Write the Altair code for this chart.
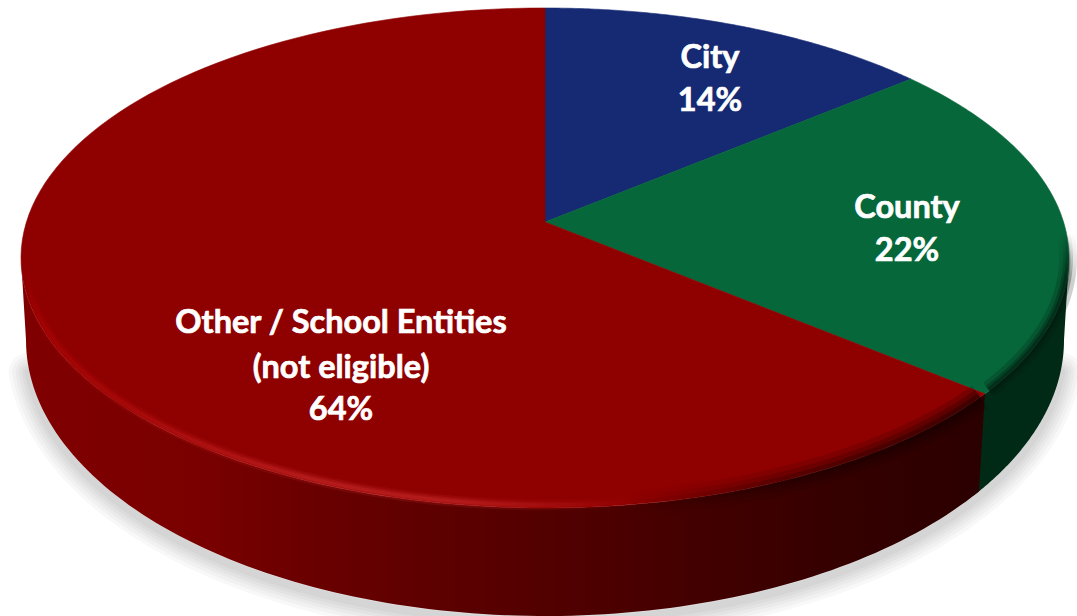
import math
import altair as alt

# Budget shares shown on the pie
categories = ["City", "County", "Other / School Entities"]
shares = [14, 22, 64]
slice_colors = ["#152A73", "#06673A", "#8F0000"]

# Text lines drawn on the slices
label_lines = ["City", "14%", "County", "22%", "Other / School Entities", "(not eligible)", "64%"]
label_cols = [710, 710, 907, 907, 341, 341, 341]
label_rows = [58, 101, 208, 251, 323, 368, 410]

# Top face: an ellipse on screen, with the pie's hub displaced by perspective
CX, CY, RX, RY = 545.0, 258.0, 524.0, 250.0
HUB_Y = 222.0
P = (HUB_Y - CY) / RY
# Lower edge of the extruded body
BX, BY, BRX, BRY = 545.0, 340.0, 519.0, 276.0


def norm_point(theta):
    """Unit-disc point for a clockwise angle from twelve o'clock, in perspective."""
    u, v = math.sin(theta), -math.cos(theta)
    d = 1 + P * v
    return u * math.sqrt(1 - P * P) / d, (v + P) / d


def top_point(theta, inset=0.0):
    X, Y = norm_point(theta)
    return [CX + (RX - inset) * X, CY + (RY - inset) * Y]


def arc(t0, t1, inset=0.0, n=120):
    return [top_point(t0 + (t1 - t0) * i / n, inset) for i in range(n + 1)]


def bottom_arc(a0, a1, n=120):
    """Lower ellipse, angle measured from its right extreme towards the bottom."""
    pts = []
    for i in range(n + 1):
        a = a0 + (a1 - a0) * i / n
        pts.append([BX + BRX * math.cos(a), BY + BRY * math.sin(a)])
    return pts


def polygon(name, pts):
    return {"type": "Feature", "properties": {"name": name},
            "geometry": {"type": "Polygon", "coordinates": [pts + [pts[0]]]}}


def linestring(pts):
    return {"type": "Feature", "properties": {},
            "geometry": {"type": "LineString", "coordinates": pts}}


# Slice boundaries, running clockwise from twelve o'clock
edges = [0.0]
for s in shares:
    edges.append(edges[-1] + 2 * math.pi * s / sum(shares))

hub = [CX, HUB_Y]
slice_features = [
    polygon(c, [hub] + arc(edges[i], edges[i + 1]))
    for i, c in enumerate(categories)
]

# Body sides: the red and green walls that show below the top face
corner = edges[2]
corner_pt = top_point(corner)
corner_bottom_angle = math.acos((corner_pt[0] - 6 - BX) / BRX)

# Angles where the top ellipse reaches its left and right extremes
t_right = math.acos(P)
t_left = 2 * math.pi - t_right

red_wall = arc(corner, t_left) + bottom_arc(math.pi, corner_bottom_angle)
green_wall = arc(t_right, corner + 0.02) + bottom_arc(corner_bottom_angle + 0.02, 0.0)


def geo(features, **mark):
    return alt.Chart(alt.Data(values=features)).mark_geoshape(**mark)


def grad(stops, horizontal=True):
    kw = dict(x1=0, x2=1, y1=0, y2=0) if horizontal else dict(x1=0, x2=0, y1=0, y2=1)
    return alt.Gradient(gradient="linear",
                        stops=[alt.GradientStop(offset=o, color=c) for o, c in stops], **kw)


layers = []

# Soft drop shadow, built up from stacked translucent strokes
shadow_path = [[x, y + 5] for x, y in bottom_arc(0.1, math.pi - 0.1, 160)]
for w in (40, 33, 26, 20, 14, 8):
    layers.append(geo([linestring(shadow_path)], filled=False, stroke="#000000",
                      strokeWidth=w, strokeOpacity=0.028, strokeCap="round", strokeJoin="round"))

# Side walls
layers.append(geo([polygon("green wall", green_wall)], stroke=None, fill="#012A16"))
layers.append(geo([polygon("red wall", red_wall)], stroke=None, fill=grad([
    (0.00, "#800000"), (0.18, "#7A0000"), (0.30, "#6A0000"), (0.55, "#520000"),
    (0.71, "#420000"), (0.86, "#340000"), (1.00, "#2B0000"),
])))

# Top face
layers.append(
    geo(slice_features, strokeWidth=0.6).encode(
        color=alt.Color("properties.name:N", legend=None,
                        scale=alt.Scale(domain=categories, range=slice_colors)),
        stroke=alt.Stroke("properties.name:N", legend=None,
                          scale=alt.Scale(domain=categories, range=slice_colors)),
    )
)

# Highlight along the bevel of the red slice
glow = arc(corner + 0.72, t_left - 0.02, inset=3)
for w, a in ((11, 0.16), (7, 0.24), (3.5, 0.34)):
    layers.append(geo([linestring(glow)], filled=False, strokeWidth=w, strokeCap="butt",
                      stroke=grad([
                          (0.00, "rgba(185,5,5,0)"),
                          (0.03, f"rgba(185,5,5,{a * 0.7:.2f})"),
                          (0.45, f"rgba(205,45,45,{a})"),
                          (0.70, f"rgba(205,45,45,{a})"),
                          (1.00, "rgba(200,30,30,0)"),
                      ])))

# Darkening where the bevel turns away on the right
dark = arc(corner + 0.015, corner + 0.75, inset=0)
for w, a in ((28, 0.2), (18, 0.28), (9, 0.38)):
    layers.append(geo([linestring(dark)], filled=False, strokeWidth=w, strokeCap="butt",
                      stroke=grad([(0.0, "rgba(20,0,0,0)"), (0.45, f"rgba(20,0,0,{a * 0.6:.2f})"),
                                   (1.0, f"rgba(20,0,0,{a})")])))

green_edge = arc(t_right - 0.1, corner - 0.015, inset=1)
for w, a in ((18, 0.2), (10, 0.3), (5, 0.4)):
    layers.append(geo([linestring(green_edge)], filled=False, strokeWidth=w, strokeCap="butt",
                      stroke=grad([(0.0, "rgba(0,20,10,0)"), (0.3, f"rgba(0,20,10,{a})"),
                                   (1.0, f"rgba(0,20,10,{a})")], horizontal=False)))

# Labels
label_rows_data = [
    {"text": t, "x": x, "y": y}
    for t, x, y in zip(label_lines, label_cols, label_rows)
]
layers.append(
    alt.Chart(alt.Data(values=label_rows_data))
    .mark_text(font="Lato", fontWeight="bold", fontSize=32.5, color="#FFFFFF",
               stroke="#FFFFFF", strokeWidth=0.7, align="center", baseline="middle")
    .encode(longitude="x:Q", latitude="y:Q", text="text:N")
)

chart = (
    alt.layer(*layers)
    .project(type="identity", scale=1, translate=[0, 0])
    .properties(width=1077, height=616, padding=0, background="#FFFFFF",
                autosize=alt.AutoSizeParams(type="none"))
    .configure_view(stroke=None)
)

chart.save("out.html", embed_options={"renderer": "svg", "actions": False})
